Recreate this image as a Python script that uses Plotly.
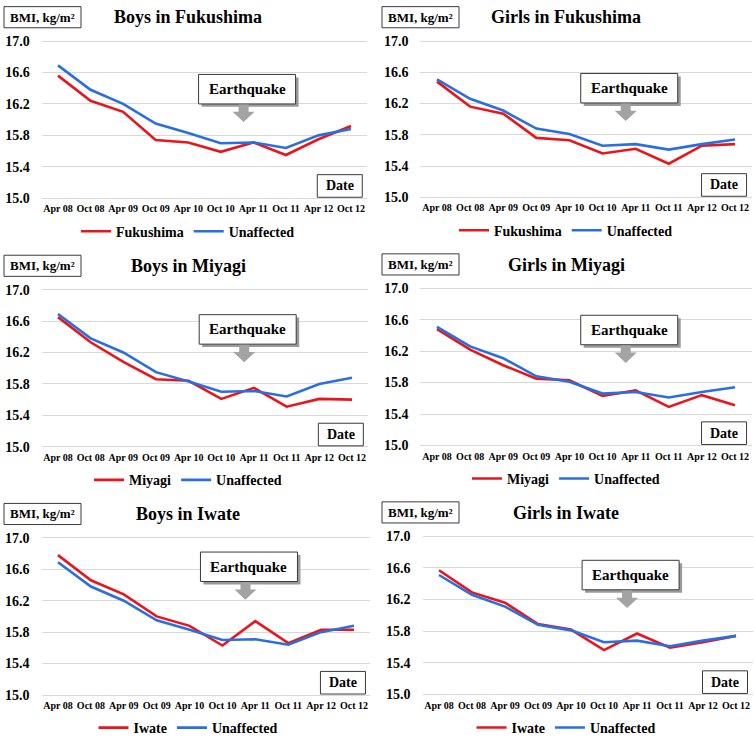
import plotly.graph_objects as go

# ---------------- data ----------------
dates = ["Apr 08", "Oct 08", "Apr 09", "Oct 09", "Apr 10",
         "Oct 10", "Apr 11", "Oct 11", "Apr 12", "Oct 12"]

boys_unaffected = [16.69, 16.38, 16.20, 15.95, 15.83, 15.70, 15.71, 15.64, 15.80, 15.88]
girls_unaffected = [16.51, 16.26, 16.11, 15.88, 15.81, 15.66, 15.68, 15.61, 15.68, 15.74]

boys_fukushima = [16.56, 16.24, 16.10, 15.74, 15.71, 15.59, 15.71, 15.55, 15.75, 15.92]
girls_fukushima = [16.48, 16.16, 16.07, 15.76, 15.73, 15.56, 15.62, 15.43, 15.66, 15.68]
boys_miyagi = [16.65, 16.33, 16.08, 15.86, 15.84, 15.61, 15.75, 15.51, 15.61, 15.60]
girls_miyagi = [16.48, 16.22, 16.02, 15.85, 15.83, 15.63, 15.70, 15.49, 15.64, 15.51]
boys_iwate = [16.78, 16.46, 16.28, 16.00, 15.88, 15.63, 15.94, 15.66, 15.83, 15.83]
girls_iwate = [16.57, 16.29, 16.16, 15.89, 15.82, 15.56, 15.77, 15.59, 15.66, 15.74]

y_ticks = [15.0, 15.4, 15.8, 16.2, 16.6, 17.0]
y_tick_text = ["15.0", "15.4", "15.8", "16.2", "16.6", "17.0"]

panels = [
    ("Boys in Fukushima", "Fukushima", boys_fukushima, boys_unaffected),
    ("Girls in Fukushima", "Fukushima", girls_fukushima, girls_unaffected),
    ("Boys in Miyagi", "Miyagi", boys_miyagi, boys_unaffected),
    ("Girls in Miyagi", "Miyagi", girls_miyagi, girls_unaffected),
    ("Boys in Iwate", "Iwate", boys_iwate, boys_unaffected),
    ("Girls in Iwate", "Iwate", girls_iwate, girls_unaffected),
]

# ---------------- layout geometry (pixels) ----------------
W, H = 755, 744
# (origin_x, first_point_x, last_point_x, y_of_17, y_of_15, earthquake_box_offset)
geom = [
    (0, 58, 351, 37.7, 197.7, 34),
    (378, 437, 735, 37.7, 196.7, 33),
    (0, 58, 352, 290.7, 450.7, 25.5),
    (378, 437, 735, 289.3, 449.3, 27.5),
    (0, 58, 354, 543.3, 703.3, 14.5),
    (378, 439, 736, 541.7, 702.7, 24.5),
]

RED = "#e8161b"
BLUE = "#2a6fe0"
FONT = "Times New Roman, Liberation Serif, serif"
BOXLINE = "#3a3a3a"


def px(x):
    return x / W


def py(y):
    return 1 - y / H


fig = go.Figure()
shapes = []
annotations = []
layout_extra = {}

Y_LO, Y_HI = 14.96, 17.04

for i, ((title, region, vals, unaff), (ox, xf, xl, y17, y15, eq_off)) in enumerate(zip(panels, geom)):
    n = i + 1
    sfx = "" if n == 1 else str(n)
    step = (xl - xf) / 9
    dom_l, dom_r = xf - step / 2, xl + step / 2
    ppu = (y15 - y17) / 2.0
    top = y17 - (Y_HI - 17.0) * ppu
    bot = y15 + (15.0 - Y_LO) * ppu
    leg = "legend" + sfx

    fig.add_trace(go.Scatter(x=dates, y=vals, mode="lines", name=region,
                             line=dict(color=RED, width=2.6),
                             xaxis="x" + sfx, yaxis="y" + sfx, legend=leg))
    fig.add_trace(go.Scatter(x=dates, y=unaff, mode="lines", name="Unaffected",
                             line=dict(color=BLUE, width=2.6),
                             xaxis="x" + sfx, yaxis="y" + sfx, legend=leg))

    layout_extra["xaxis" + sfx] = dict(
        domain=[px(dom_l), px(dom_r)], anchor="y" + sfx, type="category",
        range=[-0.5, 9.5], showgrid=False, zeroline=False, showline=False,
        tickangle=0, ticks="", tickfont=dict(family=FONT, size=10, color="black", weight="bold"),
        fixedrange=True)
    layout_extra["yaxis" + sfx] = dict(
        domain=[py(bot), py(top)], anchor="x" + sfx, range=[Y_LO, Y_HI],
        tickvals=y_ticks, ticktext=y_tick_text, showgrid=True, gridcolor="#d9d9d9",
        gridwidth=1, zeroline=False, showline=False, ticks="",
        ticklabelstandoff=11,
        tickfont=dict(family=FONT, size=14, color="black", weight="bold"),
        fixedrange=True)

    # legend below the panel
    layout_extra[leg] = dict(
        orientation="h", x=px(ox + 188), y=py(y15 + 34), xanchor="center", yanchor="middle",
        font=dict(family=FONT, size=14, color="black", weight="bold"),
        bgcolor="rgba(0,0,0,0)", itemwidth=30, tracegroupgap=0)

    # title
    annotations.append(dict(text=title, x=px(ox + 188), y=py(y17 - 24), xref="paper", yref="paper",
                            showarrow=False, xanchor="center", yanchor="middle",
                            font=dict(family=FONT, size=18, color="black", weight="bold")))

    # BMI unit box
    bx0, bx1, by0, by1 = ox + 4, ox + 81, y17 - 35, y17 - 13.5
    shapes.append(dict(type="rect", xref="paper", yref="paper",
                       x0=px(bx0), x1=px(bx1), y0=py(by1), y1=py(by0),
                       line=dict(color=BOXLINE, width=1), fillcolor="white"))
    annotations.append(dict(text="BMI, kg/m²", x=px((bx0 + bx1) / 2), y=py((by0 + by1) / 2),
                            xref="paper", yref="paper", showarrow=False,
                            xanchor="center", yanchor="middle",
                            font=dict(family=FONT, size=13, color="black", weight="bold")))

    # Earthquake box with shadow and down arrow
    ax = dom_l + (5.7 + 0.5) * step
    ex0, ex1 = ax - 45, ax + 52
    ey0 = y17 + eq_off
    ey1 = ey0 + 30
    shapes.append(dict(type="rect", xref="paper", yref="paper",
                       x0=px(ex0 + 3), x1=px(ex1 + 3), y0=py(ey1 + 3), y1=py(ey0 + 3),
                       line=dict(width=0), fillcolor="#9a9a9a"))
    shapes.append(dict(type="rect", xref="paper", yref="paper",
                       x0=px(ex0), x1=px(ex1), y0=py(ey1), y1=py(ey0),
                       line=dict(color=BOXLINE, width=1), fillcolor="white"))
    annotations.append(dict(text="Earthquake", x=px((ex0 + ex1) / 2), y=py((ey0 + ey1) / 2),
                            xref="paper", yref="paper", showarrow=False,
                            xanchor="center", yanchor="middle",
                            font=dict(family=FONT, size=15, color="black", weight="bold")))
    a0 = ey1 + 0.5
    a1 = a0 + 7.5
    a2 = a0 + 18
    path = (f"M {px(ax-5)},{py(a0)} L {px(ax+5)},{py(a0)} L {px(ax+5)},{py(a1)} "
            f"L {px(ax+11)},{py(a1)} L {px(ax)},{py(a2)} L {px(ax-11)},{py(a1)} "
            f"L {px(ax-5)},{py(a1)} Z")
    shapes.append(dict(type="path", xref="paper", yref="paper", path=path,
                       line=dict(width=0), fillcolor="#a3a3a3"))

    # Date box
    dx1 = dom_r - 5
    dx0 = dx1 - 45
    dy0, dy1 = y15 - 24, y15 - 1
    shapes.append(dict(type="rect", xref="paper", yref="paper",
                       x0=px(dx0), x1=px(dx1), y0=py(dy1), y1=py(dy0),
                       line=dict(color=BOXLINE, width=1), fillcolor="white"))
    annotations.append(dict(text="Date", x=px((dx0 + dx1) / 2), y=py((dy0 + dy1) / 2),
                            xref="paper", yref="paper", showarrow=False,
                            xanchor="center", yanchor="middle",
                            font=dict(family=FONT, size=14, color="black", weight="bold")))

fig.update_layout(
    width=W, height=H, margin=dict(l=0, r=0, t=0, b=0),
    paper_bgcolor="white", plot_bgcolor="white",
    shapes=shapes, annotations=annotations, showlegend=True,
    **layout_extra,
)

fig.write_html(
    "out.html",
    config={"displayModeBar": False},
    post_script="document.body.style.margin='0';document.body.style.overflow='hidden';",
)
